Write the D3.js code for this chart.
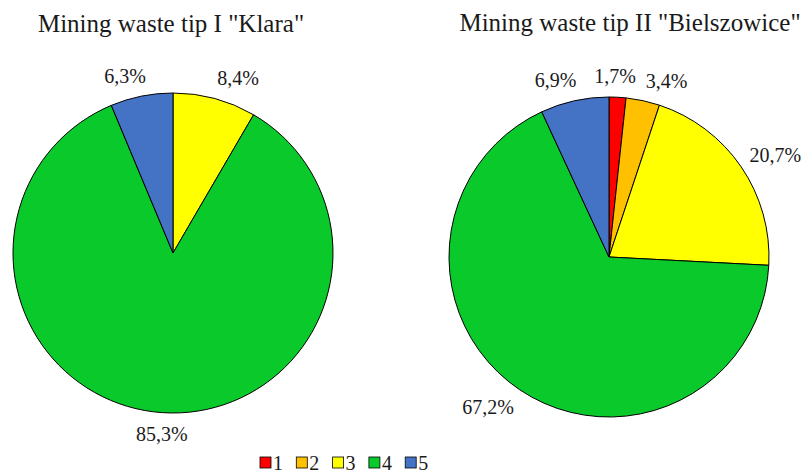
<!DOCTYPE html>
<html>
<head>
<meta charset="utf-8">
<script src="https://cdn.jsdelivr.net/npm/d3@7"></script>
<style>
  body { margin: 0; background: #fff; }
  text { font-family: "Liberation Serif", "Tinos", "Times New Roman", "DejaVu Serif", serif; }
</style>
</head>
<body>
<svg id="chart" width="810" height="472"></svg>
<script>
// categories (legend order)
const categories = ["1", "2", "3", "4", "5"];
const colors = ["#ff0000", "#ffc000", "#ffff00", "#09c92b", "#4472c4"];

// percentage shares per tip
const klaraValues = [0, 0, 8.4, 85.3, 6.3];
const bielszowiceValues = [1.7, 3.4, 20.7, 67.2, 6.9];

const titles = ['Mining waste tip I "Klara"', 'Mining waste tip II "Bielszowice"'];

const svg = d3.select("#chart");
const radius = 160;

const colorScale = d3.scaleOrdinal().domain(categories).range(colors);

const pie = d3.pie().sort(null).value(d => d.value);
const arc = d3.arc().innerRadius(0).outerRadius(radius);

const fmt = v => d3.format(".1f")(v).replace(".", ",") + "%";

// label placement: box sits just outside the circle (centred near the vertical axis),
// then neighbours are pushed apart along the circle if they collide
const gap = 10, hh = 11;
const side = s => Math.sign(s) * Math.max(0, Math.min(1, (Math.abs(s) - 0.08) * 6));
const labelPos = (a, hw) => {
    const px = Math.sin(a) * (radius + gap);
    const py = -Math.cos(a) * (radius + gap);
    return [px + hw * side(Math.sin(a)), py - hh * Math.cos(a)];
};
const overlaps = (p, q, w1, w2) => Math.abs(p[0] - q[0]) < w1 + w2 + 6 && Math.abs(p[1] - q[1]) < 2 * hh + 2;

const placeLabels = (arcs, widths) => {
    const ang = arcs.map(d => (d.startAngle + d.endAngle) / 2);
    const step = Math.PI / 360;
    for (let it = 0; it < 200; it++) {
        let moved = false;
        for (let i = 0; i < ang.length; i++) {
            const j = (i + 1) % ang.length;
            if (i === j) continue;
            if (overlaps(labelPos(ang[i], widths[i]), labelPos(ang[j], widths[j]), widths[i], widths[j])) {
                ang[i] -= step;
                ang[j] += step;
                moved = true;
            }
        }
        if (!moved) break;
    }
    return ang.map((a, i) => labelPos(a, widths[i]));
};

const drawPie = (values, cx, cy, title, titleX, titleY) => {
    const data = categories.map((c, i) => ({ cat: c, value: values[i] }));
    const arcs = pie(data).filter(d => d.data.value > 0);
    const g = svg.append("g").attr("transform", `translate(${cx},${cy})`);

    g.selectAll("path")
        .data(arcs)
        .join("path")
        .attr("d", arc)
        .attr("fill", d => colorScale(d.data.cat))
        .attr("stroke", "#000")
        .attr("stroke-width", 1);

    const labels = g.selectAll("text.lbl")
        .data(arcs)
        .join("text")
        .attr("class", "lbl")
        .attr("text-anchor", "middle")
        .style("font-size", "20px")
        .attr("fill", "#1a1a1a")
        .text(d => fmt(d.data.value));

    const widths = labels.nodes().map(n => n.getComputedTextLength() / 2);
    const pos = placeLabels(arcs, widths);
    labels
        .attr("x", (d, i) => pos[i][0])
        .attr("y", (d, i) => pos[i][1] + 7);

    svg.append("text")
        .attr("x", titleX)
        .attr("y", titleY)
        .attr("text-anchor", "middle")
        .style("font-size", "25px")
        .attr("fill", "#1a1a1a")
        .text(title);
};

drawPie(klaraValues, 173, 253, titles[0], 171, 32);
drawPie(bielszowiceValues, 609, 257, titles[1], 630, 31);

// legend
const legend = svg.append("g").attr("transform", "translate(260,457)");
const item = legend.selectAll("g")
    .data(categories)
    .join("g")
    .attr("transform", (d, i) => `translate(${i * 36.3},0)`);

item.append("rect")
    .attr("width", 11)
    .attr("height", 11)
    .attr("fill", d => colorScale(d))
    .attr("stroke", "#000")
    .attr("stroke-width", 0.8);

item.append("text")
    .attr("x", 13)
    .attr("y", 12.5)
    .style("font-size", "20px")
    .attr("fill", "#1a1a1a")
    .text(d => d);
</script>
</body>
</html>
